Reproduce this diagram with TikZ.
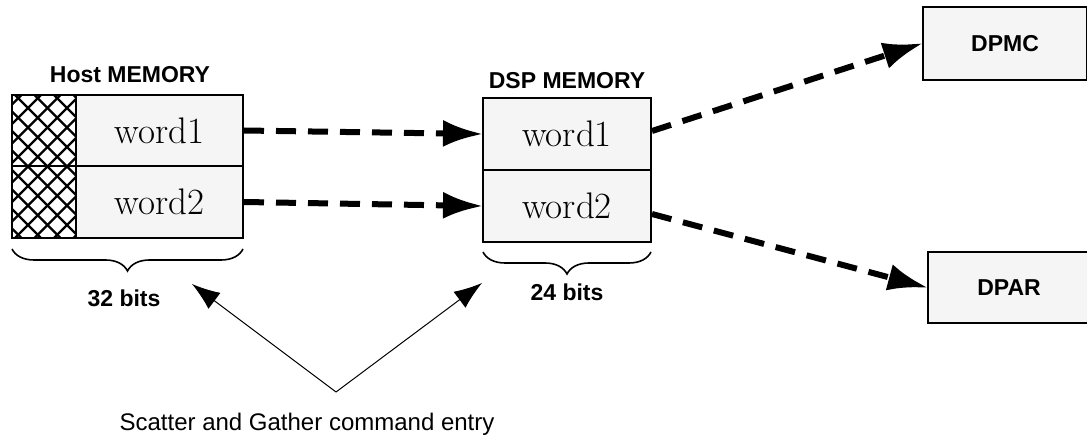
\documentclass[tikz,border=0pt]{standalone}
\usepackage{fontspec}
\setsansfont{Liberation Sans}
\usetikzlibrary{arrows.meta,decorations.pathreplacing}
\definecolor{boxfill}{HTML}{F5F5F5}
\begin{document}
\begin{tikzpicture}[x=1pt,y=-1pt,
  cell/.style={draw,line width=2pt,fill=boxfill,inner sep=0pt,font=\fontsize{37}{37}\selectfont},
  lbl/.style={font=\sffamily\bfseries\fontsize{23}{23}\selectfont},
  bigbox/.style={draw,line width=2pt,fill=boxfill,inner sep=0pt,font=\sffamily\bfseries\fontsize{23}{23}\selectfont},
  dasharrow/.style={line width=6pt,dash pattern=on 20pt off 12pt,-{Latex[length=40pt,width=27pt]},shorten >=-1pt},
  thinarrow/.style={line width=1pt,-{Latex[length=28pt,width=20pt]}},
  bracestyle/.style={decorate,decoration={brace,mirror,amplitude=22pt},line width=1.6pt}]
\useasboundingbox (0,0) rectangle (1087,438);
% Host memory
\begin{scope}
\clip (12,95) rectangle (76,238);
\foreach \k in {-180,-160.5,...,260} {
  \draw[line width=2.4pt] (\k,95) -- ++(160,160);
  \draw[line width=2.4pt] (\k,238) -- ++(160,-160);
}
\end{scope}
\node[draw,line width=2.4pt,minimum width=64pt,minimum height=143pt,inner sep=0pt] (hatch) at (44,166.5) {};
\draw[line width=2pt] (hatch.west) -- (hatch.east);
\node[cell,minimum width=167pt,minimum height=71pt] (hw1) at (159.5,130.5) {word1};
\node[cell,minimum width=167pt,minimum height=72pt] (hw2) at (159.5,202) {word2};
\node[lbl] (hostlbl) at (130,75) {Host MEMORY};
% DSP memory
\node[cell,minimum width=168pt,minimum height=72pt] (dw1) at (567,134) {word1};
\node[cell,minimum width=168pt,minimum height=72pt] (dw2) at (567,206) {word2};
\node[lbl] (dsplbl) at (567,81) {DSP MEMORY};
% targets
\node[bigbox,minimum width=164pt,minimum height=73pt] (dpmc) at (1005,43.5) {DPMC};
\node[bigbox,minimum width=162pt,minimum height=71pt] (dpar) at (1009,287.5) {DPAR};
% braces
\coordinate (hb1) at (12,249);
\coordinate (hb2) at (243,249);
\draw[bracestyle] (hb1) -- (hb2);
\node[lbl] (b32) at (124,298) {32 bits};
\coordinate (db1) at (483,252);
\coordinate (db2) at (651,252);
\draw[bracestyle] (db1) -- (db2);
\node[lbl] (b24) at (567,292) {24 bits};
% dashed arrows
\draw[dasharrow] (hw1.east) -- (dw1.west);
\draw[dasharrow] (hw2.east) -- (dw2.west);
\draw[dasharrow] ([yshift=3pt]dw1.east) -- (dpmc.west);
\draw[dasharrow] ([yshift=-8pt]dw2.east) -- (dpar.west);
% thin arrows
\coordinate (apex) at (336,392);
\coordinate (lt) at (192,284);
\coordinate (rt) at (482,283);
\draw[thinarrow] (apex) -- (lt);
\draw[thinarrow] (apex) -- (rt);
\node[font=\sffamily\fontsize{24}{24}\selectfont] (cap) at (307,424) {Scatter and Gather command entry};
\end{tikzpicture}
\end{document}
